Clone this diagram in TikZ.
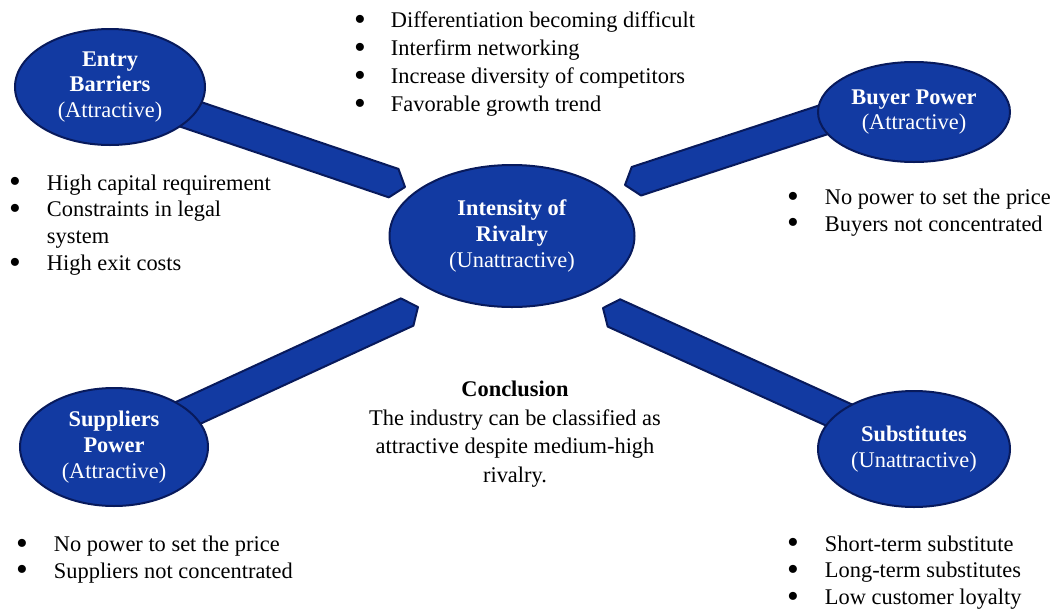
\documentclass[tikz,border=0pt]{standalone}
\usepackage{fontspec}
\setmainfont{Liberation Serif}
\usetikzlibrary{shapes.geometric,calc,backgrounds}
\definecolor{forceblue}{RGB}{18,58,162}
\definecolor{forcenavy}{RGB}{8,26,92}
\newcommand{\dotitem}{\raisebox{-0.12em}{\scalebox{1.5}{\textbullet}}}
\tikzstyle{force} = [ellipse, draw = forcenavy, line width = 2pt, fill = forceblue, text = white, align = center, inner sep = 0pt, font = \fontsize{22.4}{25.8}\selectfont]
\tikzstyle{block} = [draw = forcenavy, line width = 2pt, fill = forceblue, line join = round]
\tikzstyle{points} = [anchor = west, inner sep = 0pt, font = \fontsize{22.4}{26.7}\selectfont]
\tikzstyle{note} = [align = center, inner sep = 0pt, font = \fontsize{22.4}{28.5}\selectfont]

\begin{document}
\begin{tikzpicture}[x = 1pt, y = -1pt]
\useasboundingbox (0,0) rectangle (1061,611);

\node(ri) [force, minimum width = 245pt, minimum height = 142pt] at (512,236) {\textbf{Intensity of}\\\textbf{Rivalry}\\(Unattractive)};
\node(eb) [force, minimum width = 190pt, minimum height = 116pt] at (110,87) {\textbf{Entry}\\\textbf{Barriers}\\(Attractive)};
\node(bp) [force, minimum width = 192pt, minimum height = 100pt] at (914,112) {\textbf{Buyer Power}\\(Attractive)};
\node(sp) [force, minimum width = 188pt, minimum height = 118pt] at (114,447) {\textbf{Suppliers}\\\textbf{Power}\\(Attractive)};
\node(su) [force, minimum width = 192pt, minimum height = 116pt] at (914,449) {\textbf{Substitutes}\\(Unattractive)};

\node(rilist) [points, font = \fontsize{22.4}{28}\selectfont] at (354,64) {\begin{tabular}{@{}l@{\hspace{25pt}}l@{}}
\dotitem & Differentiation becoming difficult\\
\dotitem & Interfirm networking\\
\dotitem & Increase diversity of competitors\\
\dotitem & Favorable growth trend
\end{tabular}};
\node(eblist) [points] at (9,225) {\begin{tabular}{@{}l@{\hspace{26pt}}l@{}}
\dotitem & High capital requirement\\
\dotitem & Constraints in legal\\
 & system\\
\dotitem & High exit costs
\end{tabular}};
\node(bplist) [points] at (787,212.5) {\begin{tabular}{@{}l@{\hspace{26pt}}l@{}}
\dotitem & No power to set the price\\
\dotitem & Buyers not concentrated
\end{tabular}};
\node(splist) [points] at (16,559.5) {\begin{tabular}{@{}l@{\hspace{26pt}}l@{}}
\dotitem & No power to set the price\\
\dotitem & Suppliers not concentrated
\end{tabular}};
\node(sulist) [points] at (787,572.5) {\begin{tabular}{@{}l@{\hspace{26pt}}l@{}}
\dotitem & Short-term substitute\\
\dotitem & Long-term substitutes\\
\dotitem & Low customer loyalty
\end{tabular}};

\node(concl) [note] at (515,434) {\textbf{Conclusion}\\The industry can be classified as\\attractive despite medium-high\\rivalry.};

% block arrows towards the rivalry ellipse
\coordinate (teb) at (405,187);
\coordinate (tbp) at (625,185);
\coordinate (tsp) at (418,307);
\coordinate (tsu) at (603,308);
\coordinate (bp-tail) at ($(bp)+(0,-22)$);

\begin{scope}[on background layer]
\foreach \s/\t in {eb/teb, bp-tail/tbp, sp/tsp, su/tsu} {
  \coordinate (b) at ($(\t)!12pt!(\s)$);
  \draw [block] ($(\s)!15pt!90:(\t)$) -- ($(b)!15pt!90:(\t)$) -- (\t) -- ($(b)!15pt!-90:(\t)$) -- ($(\s)!15pt!-90:(\t)$) -- cycle;
}
\end{scope}

\end{tikzpicture}
\end{document}
